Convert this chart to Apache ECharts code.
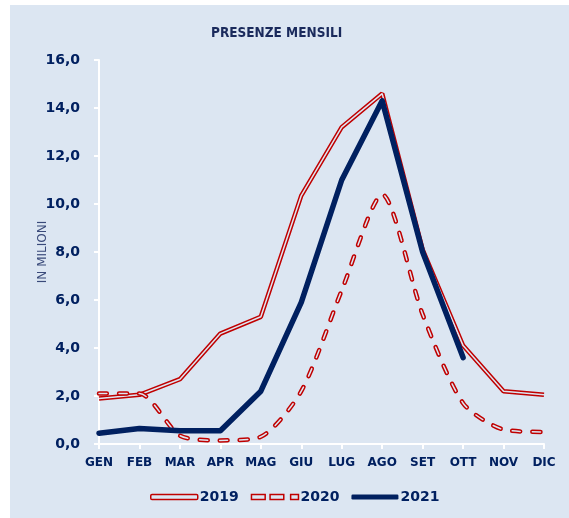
<!DOCTYPE html>
<html>
<head>
<meta charset="utf-8">
<script src="https://cdn.jsdelivr.net/npm/echarts@6/dist/echarts.min.js"></script>
<style>
html,body{margin:0;padding:0;background:#ffffff;}
#chart{position:absolute;left:10px;top:5px;width:559px;height:513px;}
</style>
</head>
<body>
<div id="chart"></div>
<script>
// dati presenze mensili (milioni)
var mesi = ['GEN','FEB','MAR','APR','MAG','GIU','LUG','AGO','SET','OTT','NOV','DIC']
var anni = ['2019','2020','2021']
var v2019 = [1.9, 2.05, 2.7, 4.6, 5.3, 10.35, 13.2, 14.6, 8.1, 4.1, 2.2, 2.05]
var v2020 = [2.1, 2.1, 0.35, 0.15, 0.3, 2.2, 6.4, 10.4, 5.4, 1.7, 0.6, 0.5]
var v2021 = [0.45, 0.65, 0.55, 0.55, 2.2, 5.9, 11.0, 14.3, 8.0, 3.6, null, null]
var yTicks = [0, 2, 4, 6, 8, 10, 12, 14, 16]

var bg = '#dce6f2'
var rosso = '#c00000'
var blu = '#002060'

var chart = echarts.init(document.getElementById('chart'))

var option = {
    backgroundColor: bg,
    animation: false,
    title: {
        text: 'PRESENZE MENSILI',
        left: 196,
        top: 16,
        textStyle: {
            fontFamily: 'DejaVu Sans Condensed',
            fontWeight: 'bold',
            fontSize: 13.5,
            color: '#1a2a5c'
        }
    },
    legend: {
        left: 135,
        bottom: 9,
        itemWidth: 47,
        itemHeight: 5,
        itemGap: 12,
        textStyle: {
            fontFamily: 'DejaVu Sans',
            fontWeight: 'bold',
            fontSize: 14,
            color: blu,
            padding: [0, 0, 0, -3]
        },
        data: [
            {name: anni[0], icon: 'roundRect', itemStyle: {color: bg, borderColor: rosso, borderWidth: 1.5}},
            {name: anni[1], icon: 'path://M0,0h14v5h-14z M19,0h14v5h-14z M40,0h8v5h-8z', itemStyle: {color: bg, borderColor: rosso, borderWidth: 1.5}},
            {name: anni[2], icon: 'roundRect', itemStyle: {color: blu, borderWidth: 0}}
        ]
    },
    grid: {
        left: 89,
        right: 25,
        top: 55,
        bottom: 74
    },
    xAxis: {
        type: 'category',
        data: mesi,
        boundaryGap: false,
        axisLine: {lineStyle: {color: '#ffffff', width: 2}},
        axisTick: {show: true, length: 5, lineStyle: {color: '#ffffff', width: 2}},
        axisLabel: {
            margin: 13,
            fontFamily: 'DejaVu Sans',
            fontWeight: 'bold',
            fontSize: 12,
            color: blu
        }
    },
    yAxis: {
        type: 'value',
        min: yTicks[0],
        max: yTicks[yTicks.length - 1],
        interval: yTicks[1] - yTicks[0],
        name: 'IN MILIONI',
        nameLocation: 'middle',
        nameRotate: 90,
        nameGap: 50,
        nameMoveOverlap: false,
        nameTextStyle: {
            fontFamily: 'DejaVu Sans',
            fontSize: 12,
            color: '#3a4a7a'
        },
        splitLine: {show: false},
        axisLine: {show: true, lineStyle: {color: '#ffffff', width: 2}},
        axisTick: {show: true, length: 5, lineStyle: {color: '#ffffff', width: 2}},
        axisLabel: {
            margin: 19,
            fontFamily: 'DejaVu Sans',
            fontWeight: 'bold',
            fontSize: 14,
            color: blu,
            formatter: function (v) {
                return v.toFixed(1).replace('.', ',')
            }
        }
    },
    series: [
        {
            name: anni[0],
            type: 'line',
            data: v2019,
            showSymbol: false,
            color: rosso,
            lineStyle: {color: rosso, width: 4.5}
        },
        {
            name: '2019 interno',
            type: 'line',
            data: v2019,
            showSymbol: false,
            silent: true,
            lineStyle: {color: bg, width: 1.5}
        },
        {
            name: anni[1],
            type: 'line',
            data: v2020,
            smooth: 0.25,
            showSymbol: false,
            color: rosso,
            lineStyle: {color: rosso, width: 4.5, type: [8, 12], cap: 'round'}
        },
        {
            name: '2020 interno',
            type: 'line',
            data: v2020,
            smooth: 0.25,
            showSymbol: false,
            silent: true,
            lineStyle: {color: bg, width: 1.5, type: [8, 12], cap: 'round'}
        },
        {
            name: anni[2],
            type: 'line',
            data: v2021,
            showSymbol: false,
            color: blu,
            lineStyle: {color: blu, width: 5.5, cap: 'round', join: 'round'}
        }
    ]
}

chart.setOption(option)
window.onresize = function () {
    chart.resize()
}
</script>
</body>
</html>
